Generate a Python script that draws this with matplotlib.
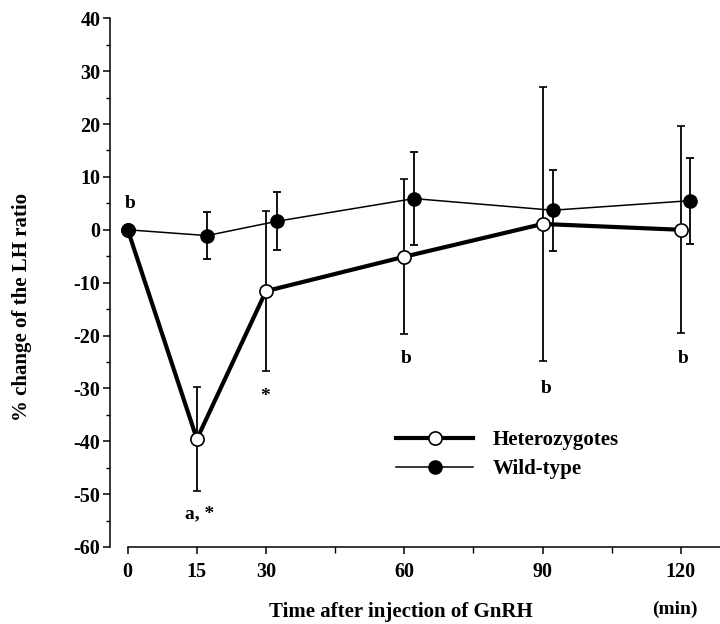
import matplotlib
matplotlib.use("Agg")
import numpy as np
import matplotlib.pyplot as plt
from matplotlib.ticker import MultipleLocator, FixedLocator
from matplotlib.lines import Line2D

plt.rcParams['font.family'] = ['Liberation Serif', 'DejaVu Serif']
plt.rcParams['font.weight'] = 'bold'
plt.rcParams['axes.unicode_minus'] = False  # plain hyphen like the original

# data
times = [0, 15, 30, 60, 90, 120]
het_mean = [0, -39.6, -11.6, -5.1, 1.1, 0.0]
het_err = [0, 9.8, 15.1, 14.7, 26.0, 19.6]
wt_mean = [0, -1.1, 1.6, 5.9, 3.7, 5.5]
wt_err = [0, 4.4, 5.5, 8.8, 7.7, 8.1]
wt_shift = [0, 2.2, 2.3, 2.1, 2.2, 2.0]  # wild-type drawn slightly right

xticks_major = [0, 15, 30, 60, 90, 120]
xticks_minor = [45, 75, 105]

# significance marks
marks = ['b', 'a, *', '*', 'b', 'b', 'b']
mark_x = [0.5, 15.7, 29.9, 60.5, 90.8, 120.5]
mark_y = [5.0, -53.8, -31.6, -24.4, -30.1, -24.4]

fig = plt.figure(figsize=(7.2, 6.24), dpi=100)
ax = fig.add_axes([110/720, 1-547/624, 610/720, (547-18.3)/624])

wt_x = np.array(times) + np.array(wt_shift)

ax.errorbar(times, het_mean, yerr=het_err, color='black', lw=3.0,
            marker='o', ms=9.5, mfc='white', mec='black', mew=1.2,
            ecolor='black', elinewidth=1.3, capsize=2.8, capthick=1.3,
            zorder=3)
ax.errorbar(wt_x, wt_mean, yerr=wt_err, color='black', lw=1.1,
            marker='o', ms=9.5, mfc='black', mec='black',
            ecolor='black', elinewidth=1.3, capsize=2.8, capthick=1.3,
            zorder=4)

for t, xx, yy in zip(marks, mark_x, mark_y):
    ax.text(xx, yy, t, ha='center', va='center', fontsize=14, fontweight='bold')

ax.set_xlim(-3.85, 128.5)
ax.set_ylim(-60, 40)
ax.spines['top'].set_visible(False)
ax.spines['right'].set_visible(False)
ax.spines['left'].set_linewidth(1.1)
ax.spines['bottom'].set_linewidth(1.1)
ax.spines['bottom'].set_bounds(0, 128.5)

ax.yaxis.set_major_locator(MultipleLocator(10))
ax.yaxis.set_minor_locator(MultipleLocator(5))
ax.xaxis.set_major_locator(FixedLocator(xticks_major))
ax.xaxis.set_minor_locator(FixedLocator(xticks_minor))
ax.tick_params(axis='both', which='major', labelsize=14.5, width=1.1, length=5)
ax.tick_params(axis='y', which='major', pad=2)
ax.tick_params(axis='x', which='major', pad=6)
ax.tick_params(axis='both', which='minor', width=1.0, length=3)
ax.tick_params(axis='x', which='minor', length=4)
for lab in ax.get_xticklabels() + ax.get_yticklabels():
    lab.set_fontweight('bold')

fig.text(22/720, 1-307/624, '% change of the LH ratio', rotation=90,
         ha='center', va='center', fontsize=15, fontweight='bold')
fig.text(401/720, 1-612/624, 'Time after injection of GnRH',
         ha='center', va='center', fontsize=15, fontweight='bold')
fig.text(675/720, 1-609/624, '(min)',
         ha='center', va='center', fontsize=14, fontweight='bold')

handles = [
    Line2D([], [], color='black', lw=3.0, marker='o', ms=9.5, mfc='white', mec='black', mew=1.2),
    Line2D([], [], color='black', lw=1.1, marker='o', ms=9.5, mfc='black', mec='black'),
]
leg = ax.legend(handles, ['Heterozygotes', 'Wild-type'],
                loc='center left', bbox_to_anchor=((396-110)/610, (547-454.6)/528.7),
                frameon=False, fontsize=15, handlelength=3.7, handletextpad=0.95,
                labelspacing=0.45, borderpad=0, borderaxespad=0)
for t in leg.get_texts():
    t.set_fontweight('bold')

fig.savefig('out.png', dpi=100)
